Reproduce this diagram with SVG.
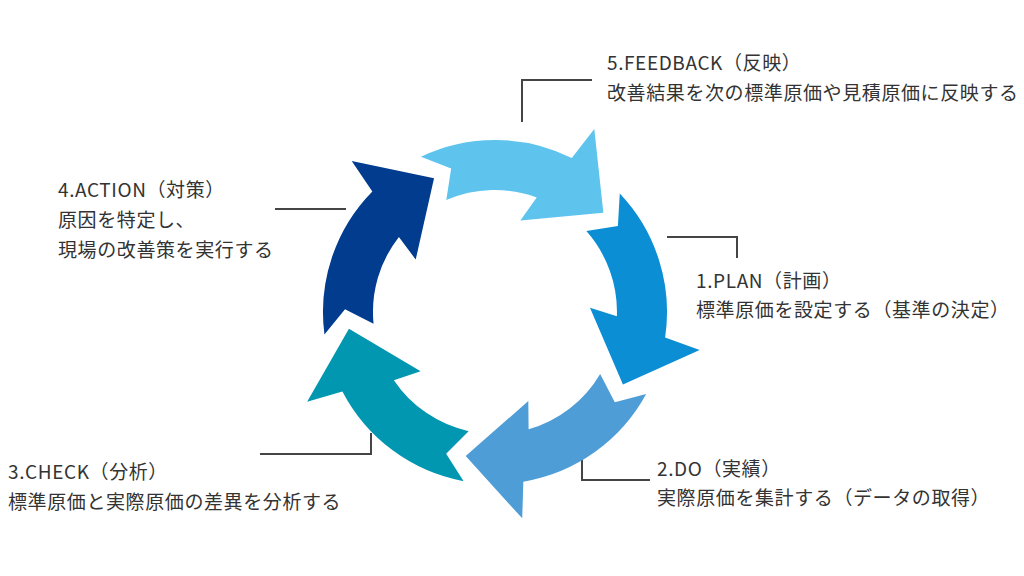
<svg xmlns="http://www.w3.org/2000/svg" xmlns:xlink="http://www.w3.org/1999/xlink" width="1024" height="576" viewBox="0 0 1024 576">
<style>
.t{font-family:"Noto Sans CJK JP","Noto Sans",sans-serif;font-size:19px;fill:#333333;letter-spacing:0.6px}
.ld{fill:none;stroke:#454545;stroke-width:2}
</style>
<defs>
<path id="arw" d="M147,0 L196.8,-67.8 L160.6,-61.6 A172,172 0 0 0 50.3,-164.5 L64.6,-135.4 L39.7,-115.4 A122,122 0 0 1 108.2,-56.3 L80.6,-50.4 Z"/>
</defs>
<rect width="1024" height="576" fill="#ffffff"/>
<g id="connectors">
<polyline class="ld" points="522,122 522,80 592,80"/>
<polyline class="ld" points="667,237 737,237 737,258"/>
<polyline class="ld" points="275,209 346,209"/>
<polyline class="ld" points="260,454 371,454 371,433"/>
<polyline class="ld" points="650,480 582,480 582,458"/>
</g>
<g id="feedback">
<use xlink:href="#arw" transform="translate(495,312) rotate(-42.5)" fill="#5EC4EE"/>
<text class="t" x="607" y="70">5.FEEDBACK（反映）</text>
<text class="t" x="607" y="100">改善結果を次の標準原価や見積原価に反映する</text>
</g>
<g id="plan">
<use xlink:href="#arw" transform="translate(495,312) rotate(29.5)" fill="#0B8ED3"/>
<text class="t" x="696" y="288">1.PLAN（計画）</text>
<text class="t" x="696" y="317">標準原価を設定する（基準の決定）</text>
</g>
<g id="do">
<use xlink:href="#arw" transform="translate(495,312) rotate(101.5)" fill="#4F9DD6"/>
<text class="t" x="657" y="476">2.DO（実績）</text>
<text class="t" x="657" y="505">実際原価を集計する（データの取得）</text>
</g>
<g id="check">
<use xlink:href="#arw" transform="translate(495,312) rotate(173.5)" fill="#0297B0"/>
<text class="t" x="8" y="479">3.CHECK（分析）</text>
<text class="t" x="8" y="509">標準原価と実際原価の差異を分析する</text>
</g>
<g id="action">
<use xlink:href="#arw" transform="translate(495,312) rotate(245.5)" fill="#013C8E"/>
<text class="t" x="58" y="197">4.ACTION（対策）</text>
<text class="t" x="58" y="227">原因を特定し、</text>
<text class="t" x="58" y="257">現場の改善策を実行する</text>
</g>
</svg>
